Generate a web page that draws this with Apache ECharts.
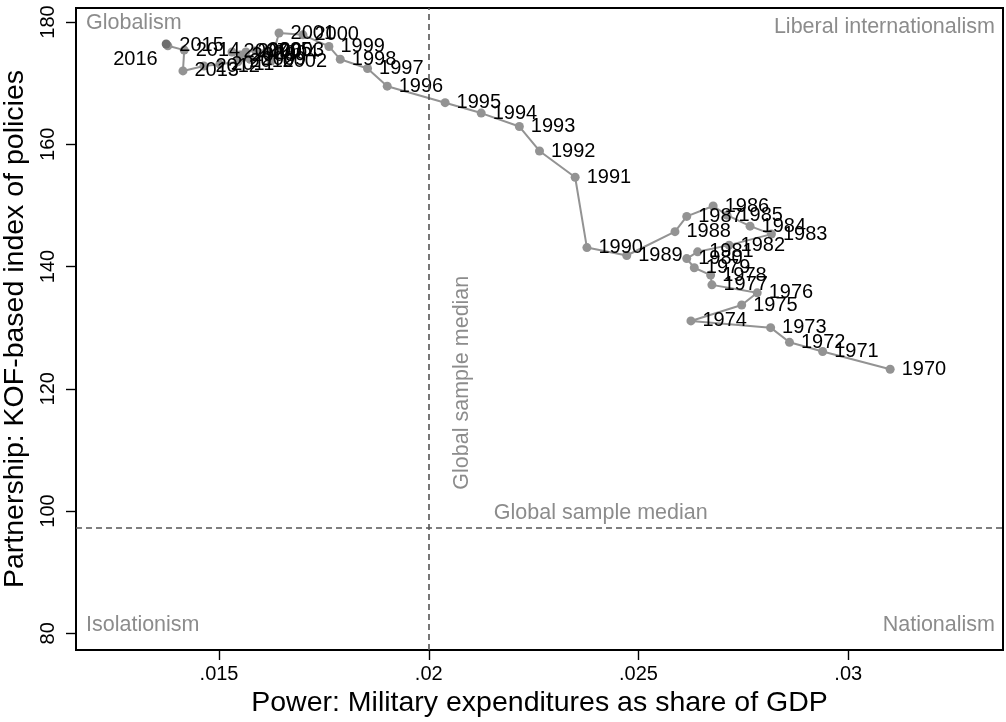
<!DOCTYPE html>
<html>
<head>
<meta charset="utf-8">
<script src="https://cdn.jsdelivr.net/npm/echarts@6/dist/echarts.min.js"></script>
<style>
  html, body { margin: 0; padding: 0; background: #ffffff; }
  #chart { width: 1006px; height: 722px; }
</style>
</head>
<body>
<div id="chart"></div>
<script>
// Yearly trajectory: military spending share of GDP vs. KOF-based partnership index
const years = [1970, 1971, 1972, 1973, 1974, 1975, 1976, 1977, 1978, 1979,
               1980, 1981, 1982, 1983, 1984, 1985, 1986, 1987, 1988, 1989,
               1990, 1991, 1992, 1993, 1994, 1995, 1996, 1997, 1998, 1999,
               2000, 2001, 2002, 2003, 2004, 2005, 2006, 2007, 2008, 2009,
               2010, 2011, 2012, 2013, 2014, 2015, 2016];
const milexShare = [0.03100, 0.02939, 0.02860, 0.02815, 0.02625, 0.02746, 0.02783, 0.02675, 0.02672, 0.02633,
                    0.02615, 0.02641, 0.02716, 0.02817, 0.02766, 0.02711, 0.02678, 0.02615, 0.02587, 0.02472,
                    0.02377, 0.02349, 0.02264, 0.02216, 0.02125, 0.02039, 0.01901, 0.01854, 0.01789, 0.01762,
                    0.01700, 0.01643, 0.01624, 0.01617, 0.01603, 0.01588, 0.01564, 0.01531, 0.01550, 0.01574,
                    0.01545, 0.01502, 0.01464, 0.01414, 0.01417, 0.01378, 0.01374];
const kofIndex = [123.2, 126.1, 127.6, 130.0, 131.1, 133.7, 135.7, 137.0, 138.6, 139.8,
                  141.3, 142.4, 143.5, 145.3, 146.6, 148.4, 149.9, 148.2, 145.7, 141.8,
                  143.1, 154.6, 158.9, 162.9, 165.1, 166.8, 169.5, 172.4, 173.9, 176.0,
                  177.9, 178.2, 173.6, 175.3, 174.8, 175.3, 175.1, 175.1, 174.6, 173.9,
                  173.5, 173.1, 172.8, 172.0, 175.4, 176.1, 176.4];

// Axis ticks and reference lines
const xTicks = [0.015, 0.02, 0.025, 0.03];
const yTicks = [80, 100, 120, 140, 160, 180];
const xRange = [0.01159, 0.03369];
const yRange = [77.27, 182.29];
const medianMilex = 0.02047;
const medianKof = 97.2;
const medianText = 'Global sample median';
const quadrantNames = ['Globalism', 'Liberal internationalism', 'Isolationism', 'Nationalism'];

const FONT = '"Liberation Sans", Arial, Helvetica, sans-serif';
const GRAY_TEXT = '#8c8c8c';
const MARK = '#939393';

const chart = echarts.init(document.getElementById('chart'), null, { renderer: 'canvas' });

const points = years.map(function (yr, i) {
  const item = { value: [milexShare[i], kofIndex[i]] };
  if (yr === 2016) {
    item.itemStyle = { color: '#6e6e6e' };
    item.label = { position: 'left', distance: 4, offset: [0, 15] };
  }
  return item;
});

chart.setOption({
  animation: false,
  backgroundColor: '#ffffff',
  textStyle: { fontFamily: FONT },
  grid: {
    left: 76, right: 3, top: 8, bottom: 72,
    containLabel: false, outerBoundsMode: 'none',
    show: true, borderColor: '#000', borderWidth: 2, backgroundColor: 'transparent'
  },
  xAxis: {
    type: 'value',
    min: xRange[0], max: xRange[1],
    name: 'Power: Military expenditures as share of GDP',
    nameLocation: 'middle', nameGap: 36,
    nameTextStyle: { fontSize: 28.5, color: '#000', fontFamily: FONT },
    axisLine: { show: true, onZero: false, lineStyle: { color: '#000', width: 2 } },
    axisTick: { show: true, length: 10, customValues: xTicks, lineStyle: { color: '#000', width: 1.4 } },
    axisLabel: {
      customValues: xTicks, margin: 14, fontSize: 20, color: '#000', fontFamily: FONT,
      formatter: function (v) { return String(v).replace(/^0\./, '.'); }
    },
    splitLine: { show: false }
  },
  yAxis: {
    type: 'value',
    min: yRange[0], max: yRange[1],
    name: 'Partnership: KOF-based index of policies',
    nameLocation: 'middle', nameGap: 42, nameRotate: 90,
    nameTextStyle: { fontSize: 28.5, color: '#000', fontFamily: FONT },
    axisLine: { show: true, onZero: false, lineStyle: { color: '#000', width: 2 } },
    axisTick: { show: true, length: 10, customValues: yTicks, lineStyle: { color: '#000', width: 1.4 } },
    axisLabel: {
      customValues: yTicks, margin: 18, fontSize: 20, color: '#000', fontFamily: FONT, rotate: 90
    },
    splitLine: { show: false }
  },
  series: [{
    type: 'line',
    data: points,
    symbol: 'circle',
    symbolSize: 9,
    showAllSymbol: true,
    itemStyle: { color: MARK },
    lineStyle: { color: MARK, width: 2 },
    label: {
      show: true, position: 'right', distance: 7,
      fontSize: 20, color: '#000', fontFamily: FONT,
      formatter: function (p) { return String(years[p.dataIndex]); }
    },
    markLine: {
      silent: true,
      symbol: ['none', 'none'],
      label: { show: false },
      lineStyle: { color: '#555', width: 1.6, type: [6, 4] },
      data: [{ xAxis: medianMilex }, { yAxis: medianKof }]
    },
    z: 3
  }]
});

// Quadrant names and reference-line captions, placed through the axis scales
function px(x, y) { return chart.convertToPixel({ gridIndex: 0 }, [x, y]); }
const tl = px(xRange[0], yRange[1]);
const br = px(xRange[1], yRange[0]);
const annoStyle = function (text, align, vAlign) {
  return { text: text, fill: GRAY_TEXT, fontSize: 21.5, fontFamily: FONT, align: align, verticalAlign: vAlign };
};
const vPos = px(medianMilex, 121);
const hPos = px(0.0241, medianKof);
chart.setOption({
  graphic: [
    { type: 'text', x: tl[0] + 10, y: tl[1] + 15, style: annoStyle(quadrantNames[0], 'left', 'middle') },
    { type: 'text', x: br[0] - 8, y: tl[1] + 19, style: annoStyle(quadrantNames[1], 'right', 'middle') },
    { type: 'text', x: tl[0] + 10, y: br[1] - 25, style: annoStyle(quadrantNames[2], 'left', 'middle') },
    { type: 'text', x: br[0] - 8, y: br[1] - 25, style: annoStyle(quadrantNames[3], 'right', 'middle') },
    { type: 'text', x: vPos[0] + 14, y: vPos[1], rotation: Math.PI / 2, style: annoStyle(medianText, 'center', 'middle') },
    { type: 'text', x: hPos[0], y: hPos[1] - 15, style: annoStyle(medianText, 'center', 'middle') }
  ]
});
</script>
</body>
</html>
